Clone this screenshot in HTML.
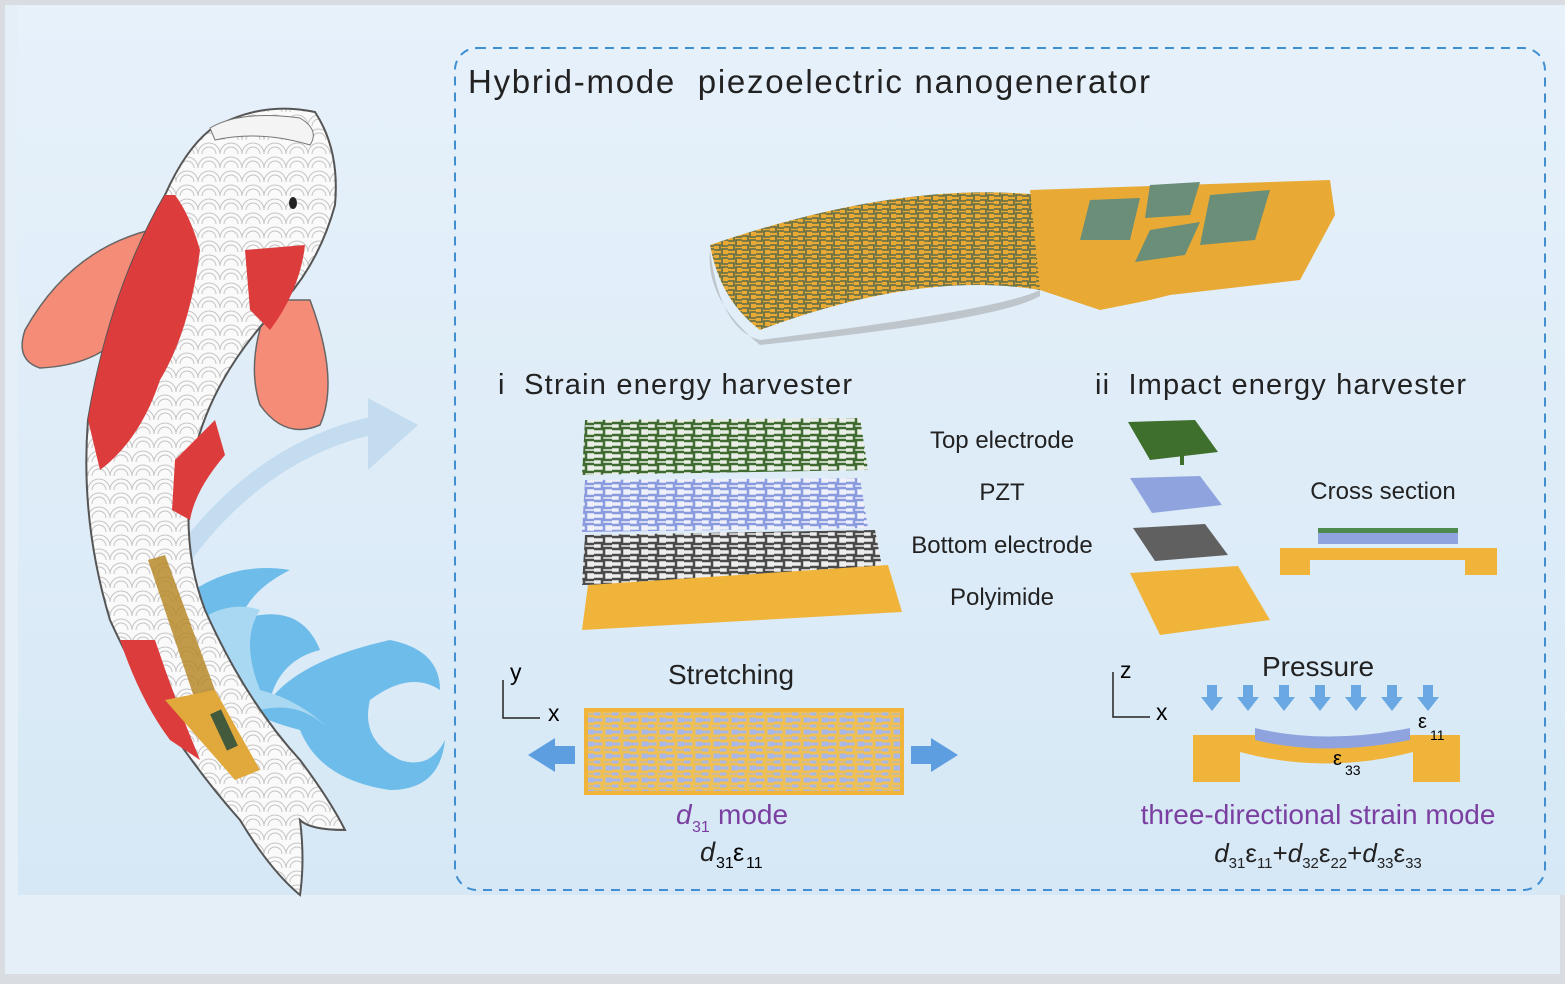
<!DOCTYPE html>
<html><head><meta charset="utf-8"><style>
body{margin:0;width:1565px;height:979px;overflow:hidden;background:#d9dde1;font-family:"Liberation Sans",sans-serif}
</style></head><body>
<svg width="1565" height="979" viewBox="0 0 1565 979" xmlns="http://www.w3.org/2000/svg" font-family="Liberation Sans, sans-serif">
<defs>
<linearGradient id="bg" x1="0" y1="0" x2="0" y2="1"><stop offset="0" stop-color="#e7f1fa"/><stop offset="1" stop-color="#d6e8f6"/></linearGradient>
<pattern id="scale" width="22" height="14" patternUnits="userSpaceOnUse"><rect width="22" height="14" fill="#fafafa"/><path d="M0 14 A11 11 0 0 1 22 14 M4 14 A7 7 0 0 1 18 14" fill="none" stroke="#c4c4c4" stroke-width="1"/></pattern>
<pattern id="mg" width="18" height="12" patternUnits="userSpaceOnUse"><rect width="18" height="12" fill="#e9efe6"/><path d="M0 3h8v6H0M10 0v4h8M10 12V8h8" fill="none" stroke="#3f6a30" stroke-width="2.5"/></pattern>
<pattern id="mb" width="18" height="12" patternUnits="userSpaceOnUse"><rect width="18" height="12" fill="#eef0fa"/><path d="M0 3h8v6H0M10 0v4h8M10 12V8h8" fill="none" stroke="#8a9ade" stroke-width="2.5"/></pattern>
<pattern id="mk" width="18" height="12" patternUnits="userSpaceOnUse"><rect width="18" height="12" fill="#eeeeee"/><path d="M0 3h8v6H0M10 0v4h8M10 12V8h8" fill="none" stroke="#4a4a4a" stroke-width="2.5"/></pattern>
<pattern id="my" width="18" height="12" patternUnits="userSpaceOnUse"><rect width="18" height="12" fill="#a8b6e8"/><path d="M0 3h8v6H0M10 0v4h8M10 12V8h8" fill="none" stroke="#f0c050" stroke-width="3"/></pattern>
<pattern id="md" width="14" height="9" patternUnits="userSpaceOnUse"><rect width="14" height="9" fill="#e8aa35"/><path d="M0 2h6v5H0M8 0v3h6M8 9V6h6" fill="none" stroke="#5a6a48" stroke-width="1.6"/></pattern>
</defs>
<rect x="5" y="5" width="1555" height="969" fill="#e4eff8"/>
<rect x="18" y="5" width="1547" height="890" fill="url(#bg)"/>
<path d="M180 560 Q260 450 375 425" fill="none" stroke="#c4dcef" stroke-width="18"/>
<polygon points="368,398 418,425 368,470" fill="#c4dcef"/>
<path d="M150 230 Q70 250 25 330 Q15 360 40 368 Q100 365 125 330 Z" fill="#f58c78" stroke="#666" stroke-width="1.5"/>
<path d="M270 300 Q245 360 260 405 Q285 440 320 425 Q340 380 310 300 Z" fill="#f58c78" stroke="#666" stroke-width="1.5"/>
<path d="M180 600 Q230 560 290 570 Q250 590 240 620 Q300 600 320 650 Q280 660 270 700 Q300 660 390 640 Q440 650 440 690 Q410 670 370 700 Q360 740 400 760 Q430 770 445 740 Q440 790 390 790 Q320 780 300 730 Q260 720 230 700 Z" fill="#5ab4e8" opacity="0.85"/>
<path d="M200 620 Q230 600 260 610 Q240 640 260 690 Q300 700 330 730 Q300 700 260 710 Q220 680 200 620Z" fill="#a9d8f3"/>
<path d="M210 130 Q260 100 315 112 Q340 150 335 205 Q320 260 285 300 Q215 370 195 450 Q178 540 205 610 Q245 700 300 760 Q330 800 345 830 Q310 830 300 820 Q305 860 300 895 Q270 870 240 820 Q160 730 110 620 Q80 520 88 420 Q110 290 165 195 Q185 150 210 130Z" fill="url(#scale)" stroke="#555" stroke-width="2"/>
<path d="M165 195 Q110 290 88 420 L100 470 Q140 440 160 380 Q190 330 200 250 Q190 215 175 195Z" fill="#dc3c3c"/>
<path d="M245 250 L305 245 Q300 290 270 330 L250 310 Z" fill="#dc3c3c"/>
<path d="M175 460 L215 420 L225 455 Q195 490 190 520 L172 510Z" fill="#dc3c3c"/>
<path d="M120 640 L155 640 Q175 700 200 760 L170 740 Q140 700 120 640Z" fill="#dc3c3c"/>
<path d="M210 128 Q240 110 300 118 Q320 130 310 145 Q260 130 215 140Z" fill="#f4f4f4" stroke="#777"/>
<ellipse cx="293" cy="203" rx="4" ry="6" fill="#222"/>
<path d="M148 560 L165 555 L215 690 L195 700Z" fill="#b78a2a" opacity="0.85"/>
<path d="M165 700 L215 690 L260 770 L235 780Z" fill="#e1a93b"/>
<rect x="218" y="710" width="12" height="40" fill="#445a3c" transform="rotate(-25 224 730)"/>
<rect x="455" y="48" width="1090" height="842" rx="22" fill="none" stroke="#3f8fd2" stroke-width="2" stroke-dasharray="9,7"/>
<text x="468" y="93" font-size="33" fill="#222" textLength="682" xml:space="preserve">Hybrid-mode  piezoelectric nanogenerator</text>
<path d="M710 245 Q900 180 1040 195 L1040 290 Q920 270 760 330 Q720 300 710 245Z" fill="url(#md)"/>
<path d="M1030 190 L1330 180 L1335 215 L1300 280 L1170 295 L1150 300 L1100 310 L1040 290Z" fill="#e8aa35"/>
<path d="M1090 200 L1140 198 L1130 240 L1080 240Z M1150 185 L1200 182 L1190 215 L1145 218Z M1150 230 L1200 222 L1185 255 L1135 262Z M1210 195 L1270 190 L1255 240 L1200 245Z" fill="#6a8e78"/>
<path d="M1040 290 Q1000 310 760 340 Q720 330 710 250 Q705 300 760 345 Q1000 320 1040 296Z" fill="#8a8a8a" opacity="0.4"/>
<text x="498" y="394" font-size="29" fill="#222" textLength="354" xml:space="preserve">i  Strain energy harvester</text>
<text x="1095" y="394" font-size="29" fill="#222" textLength="371" xml:space="preserve">ii  Impact energy harvester</text>
<polygon points="585,420 860,418 868,470 582,475" fill="url(#mg)"/>
<polygon points="585,480 860,478 868,528 582,532" fill="url(#mb)"/>
<polygon points="585,535 875,530 885,582 582,585" fill="url(#mk)"/>
<polygon points="588,585 888,565 902,612 582,630" fill="#f0b43a"/>
<g font-size="24" fill="#222" text-anchor="middle">
<text x="1002" y="448">Top electrode</text><text x="1002" y="500">PZT</text><text x="1002" y="553">Bottom electrode</text><text x="1002" y="605">Polyimide</text>
<text x="1383" y="499">Cross section</text>
</g>
<polygon points="1128,422 1195,420 1218,452 1150,460" fill="#3f6f2c"/>
<rect x="1180" y="455" width="4" height="10" fill="#3f6f2c"/>
<polygon points="1130,478 1200,476 1222,505 1152,513" fill="#8fa4de"/>
<polygon points="1133,528 1205,524 1228,555 1155,561" fill="#606060"/>
<polygon points="1130,573 1238,566 1270,620 1160,635" fill="#f0b43a"/>
<rect x="1318" y="530" width="140" height="14" fill="#8fa4de"/><rect x="1318" y="528" width="140" height="5" fill="#4d8a4d"/>
<path d="M1280 548 H1497 V575 H1465 V560 H1310 V575 H1280Z" fill="#f0b43a"/>
<text x="731" y="684" font-size="28" fill="#222" text-anchor="middle">Stretching</text>
<path d="M503 680 V718 H540" fill="none" stroke="#222" stroke-width="1.5"/>
<text x="510" y="680" font-size="23">y</text><text x="548" y="721" font-size="23">x</text>
<rect x="586" y="710" width="316" height="83" fill="url(#my)" stroke="#f0b43a" stroke-width="4"/>
<polygon points="528,755 555,738 555,746 575,746 575,764 555,764 555,772" fill="#5d9ee0"/>
<polygon points="958,755 931,738 931,746 911,746 911,764 931,764 931,772" fill="#5d9ee0"/>
<text x="676" y="824" font-size="28" fill="#7a3fa0" font-style="italic">d</text><text x="692" y="832" font-size="16" fill="#7a3fa0">31</text><text x="718" y="824" font-size="28" fill="#7a3fa0"> mode</text>
<text x="700" y="861" font-size="27" fill="#222" font-style="italic">d</text><text x="716" y="868" font-size="16">31</text><text x="733" y="861" font-size="25">ε</text><text x="746" y="868" font-size="16">11</text>
<text x="1318" y="676" font-size="28" fill="#222" text-anchor="middle">Pressure</text>
<path d="M1113 672 V717 H1150" fill="none" stroke="#222" stroke-width="1.5"/>
<text x="1120" y="678" font-size="23">z</text><text x="1156" y="720" font-size="23">x</text>
<g fill="#6aa8e4"><path d="M1207 685h10v12h6l-11 14-11-14h6z"/><path d="M1243 685h10v12h6l-11 14-11-14h6z"/><path d="M1279 685h10v12h6l-11 14-11-14h6z"/><path d="M1315 685h10v12h6l-11 14-11-14h6z"/><path d="M1351 685h10v12h6l-11 14-11-14h6z"/><path d="M1387 685h10v12h6l-11 14-11-14h6z"/><path d="M1423 685h10v12h6l-11 14-11-14h6z"/></g>
<path d="M1193 735 H1255 Q1325 755 1410 735 H1460 V782 H1413 V752 Q1325 775 1240 752 V782 H1193Z" fill="#f0b43a"/>
<path d="M1255 728 Q1325 745 1410 728 V740 Q1325 757 1255 740Z" fill="#8fa4de"/>
<text x="1418" y="728" font-size="20">ε</text><text x="1430" y="740" font-size="14">11</text>
<text x="1333" y="765" font-size="20">ε</text><text x="1345" y="775" font-size="14">33</text>
<text x="1318" y="824" font-size="28" fill="#7a3fa0" text-anchor="middle">three-directional strain mode</text>
<text x="1318" y="862" font-size="26" fill="#222" text-anchor="middle"><tspan font-style="italic">d</tspan><tspan font-size="15" dy="6">31</tspan><tspan dy="-6">ε</tspan><tspan font-size="15" dy="6">11</tspan><tspan dy="-6">+</tspan><tspan font-style="italic">d</tspan><tspan font-size="15" dy="6">32</tspan><tspan dy="-6">ε</tspan><tspan font-size="15" dy="6">22</tspan><tspan dy="-6">+</tspan><tspan font-style="italic">d</tspan><tspan font-size="15" dy="6">33</tspan><tspan dy="-6">ε</tspan><tspan font-size="15" dy="6">33</tspan></text>
</svg>
</body></html>
